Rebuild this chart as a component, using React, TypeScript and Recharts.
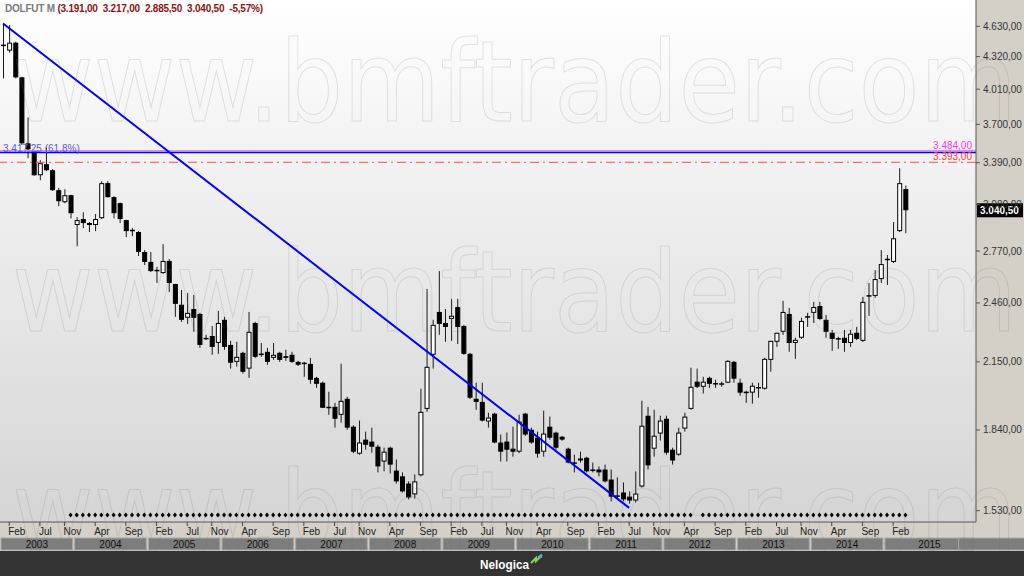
import React from "react";
import { ComposedChart, Bar, Line, XAxis, YAxis, ReferenceLine } from "recharts";

// DOLFUT monthly candles, Jan 2003 .. Apr 2015 (one row per year)
const opens = [
  4440, 4380, 4460, 4120, 3543, 3487, 3294, 3378, 3332, 3183, 3097, 3147,
  2940, 2980, 2953, 2940, 2986, 3235, 3133, 3090, 2973, 2906, 2893, 2764,
  2702, 2652, 2634, 2708, 2569, 2450, 2378, 2426, 2399, 2270, 2281, 2245,
  2367, 2235, 2150, 2195, 2117, 2350, 2190, 2200, 2170, 2195, 2178, 2185,
  2150, 2145, 2140, 2073, 2050, 1940, 1940, 1905, 1976, 1854, 1743, 1800,
  1792, 1771, 1712, 1767, 1677, 1655, 1628, 1588, 1659, 1931, 2185, 2410,
  2350, 2372, 2437, 2334, 2190, 1976, 1962, 1876, 1910, 1788, 1792, 1763,
  1751, 1910, 1841, 1808, 1751, 1854, 1829, 1812, 1763, 1708, 1716, 1727,
  1680, 1681, 1681, 1643, 1584, 1595, 1580, 1566, 1617, 1901, 1763, 1825,
  1888, 1759, 1739, 1846, 1931, 2055, 2031, 2073, 2047, 2045, 2050, 2150,
  2050, 2008, 2004, 2029, 2022, 2160, 2251, 2303, 2399, 2245, 2272, 2380,
  2405, 2443, 2367, 2298, 2268, 2272, 2245, 2298, 2256, 2497, 2500, 2598,
  2714, 2702, 2899, 3191,
];
const highs = [
  4660, 4643, 4470, 4125, 3760, 3490, 3409, 3510, 3340, 3200, 3190, 3150,
  2993, 3027, 2960, 3014, 3250, 3250, 3140, 3095, 2975, 2919, 2900, 2776,
  2764, 2671, 2814, 2720, 2570, 2534, 2517, 2505, 2405, 2287, 2334, 2416,
  2383, 2256, 2251, 2200, 2410, 2356, 2245, 2220, 2245, 2200, 2210, 2200,
  2155, 2150, 2170, 2078, 2055, 2008, 1958, 2141, 1985, 1860, 1880, 1833,
  1850, 1779, 1767, 1771, 1720, 1670, 1636, 1662, 2022, 2540, 2367, 2646,
  2426, 2483, 2483, 2340, 2195, 2050, 2050, 1914, 1914, 1821, 1829, 1854,
  1905, 1914, 1850, 1833, 1923, 1897, 1833, 1815, 1767, 1739, 1751, 1731,
  1708, 1693, 1700, 1681, 1651, 1632, 1599, 1674, 1967, 1940, 1927, 1901,
  1901, 1767, 1850, 1914, 2122, 2117, 2078, 2078, 2064, 2055, 2158, 2155,
  2069, 2013, 2050, 2050, 2170, 2256, 2298, 2472, 2432, 2272, 2378, 2405,
  2466, 2466, 2394, 2313, 2277, 2313, 2313, 2329, 2494, 2575, 2652, 2776,
  2745, 2960, 3347, 3217,
];
const lows = [
  4110, 4360, 4110, 3530, 3425, 3290, 3257, 3325, 3180, 3069, 3090, 2985,
  2800, 2919, 2893, 2899, 2980, 3130, 2985, 2953, 2860, 2866, 2739, 2683,
  2640, 2575, 2630, 2522, 2383, 2356, 2345, 2303, 2220, 2261, 2185, 2190,
  2210, 2117, 2127, 2093, 2073, 2170, 2175, 2136, 2160, 2150, 2155, 2145,
  2130, 2078, 2045, 2026, 1935, 1905, 1850, 1871, 1841, 1745, 1739, 1759,
  1747, 1670, 1674, 1666, 1628, 1595, 1570, 1573, 1655, 1918, 2117, 2287,
  2251, 2256, 2240, 2185, 1975, 1927, 1876, 1850, 1785, 1712, 1712, 1731,
  1745, 1815, 1783, 1727, 1731, 1800, 1759, 1795, 1705, 1670, 1708, 1670,
  1670, 1655, 1632, 1563, 1570, 1563, 1555, 1559, 1613, 1681, 1731, 1796,
  1739, 1700, 1735, 1833, 1927, 2025, 2000, 2026, 2026, 2031, 2048, 2050,
  1990, 1958, 1954, 1981, 2018, 2102, 2225, 2287, 2200, 2165, 2266, 2329,
  2350, 2365, 2272, 2205, 2215, 2200, 2225, 2260, 2250, 2388, 2489, 2575,
  2563, 2695, 2893, 2885.5,
];
const closes = [
  4425, 4460, 4120, 3543, 3495, 3294, 3386, 3332, 3183, 3104, 3147, 3020,
  2973, 2953, 2940, 2980, 3235, 3133, 3020, 2980, 2899, 2900, 2764, 2702,
  2646, 2646, 2708, 2575, 2455, 2367, 2405, 2378, 2235, 2265, 2225, 2350,
  2225, 2146, 2175, 2102, 2303, 2175, 2185, 2150, 2185, 2160, 2170, 2150,
  2136, 2140, 2064, 2045, 1936, 1934, 1888, 1967, 1850, 1751, 1788, 1779,
  1771, 1693, 1751, 1700, 1636, 1599, 1577, 1636, 1918, 2126, 2340, 2345,
  2329, 2389, 2329, 2190, 1981, 1962, 1880, 1893, 1788, 1751, 1759, 1751,
  1876, 1821, 1788, 1743, 1825, 1808, 1767, 1800, 1708, 1704, 1724, 1674,
  1677, 1670, 1636, 1580, 1580, 1570, 1566, 1591, 1858, 1697, 1816, 1880,
  1747, 1716, 1829, 1897, 2031, 2031, 2055, 2045, 2043, 2043, 2155, 2069,
  2004, 2002, 2036, 2024, 2165, 2256, 2298, 2410, 2245, 2261, 2361, 2385,
  2437, 2372, 2303, 2266, 2264, 2245, 2293, 2266, 2466, 2503, 2598, 2689,
  2720, 2852, 3235, 3040.5,
];

// empty months kept on the right of the last candle
const FUTURE_SLOTS = 11;

const yearLabels = ["2003", "2004", "2005", "2006", "2007", "2008", "2009", "2010", "2011", "2012", "2013", "2014", "2015"];
const monthTickIndex = [1, 6, 10, 15, 20, 25, 30, 34, 39, 44, 49, 54, 58, 63, 68, 73, 78, 82, 87, 92, 97, 102, 106, 111, 116, 121, 126, 130, 135, 140, 145];
const monthTickLabels = [
  "Feb", "Jul", "Nov", "Apr", "Sep", "Feb", "Jul", "Nov", "Apr", "Sep",
  "Feb", "Jul", "Nov", "Apr", "Sep", "Feb", "Jul", "Nov", "Apr", "Sep",
  "Feb", "Jul", "Nov", "Apr", "Sep", "Feb", "Jul", "Nov", "Apr", "Sep", "Feb",
];
const priceTicks = [1530, 1840, 2150, 2460, 2770, 3080, 3390, 3700, 4010, 4320, 4630];

// trendline drawn from the 2003 top to the 2011 bottom
const trendStart = { i: 0, value: 4660 };
const trendEnd = { i: 102, value: 1540 };

// stop-dot row under the candles
const stopDotLevel = 1515;
const stopDotFirst = 11;
const stopDotMissing = [113];

const resistanceLevel = 3484;
const fibLevel = 3470;
const fibText = "3.417,25 (61,8%)";
const stopLevel = 3393;
const lastPrice = 3040.5;

const PLOT_W = 976;
const PLOT_H = 522;
const CHART_H = 551;
const SLOT = PLOT_W / (opens.length + FUTURE_SLOTS);
const FONT = "'Liberation Sans', Arial, sans-serif";

const fmt = (v: number) => {
  const [a, b] = v.toFixed(2).split(".");
  return a.replace(/\B(?=(\d{3})+(?!\d))/g, ".") + "," + b;
};

const chartData = Array.from({ length: opens.length + FUTURE_SLOTS }, (_, i) => {
  if (i >= opens.length) return { i };
  const o = opens[i];
  const c = closes[i];
  return {
    i,
    o,
    h: highs[i],
    l: lows[i],
    c,
    wick: [lows[i], highs[i]],
    body: [Math.min(o, c), Math.max(o, c)],
    trend: i === trendStart.i ? trendStart.value : i === trendEnd.i ? trendEnd.value : null,
    stop: i >= stopDotFirst && !stopDotMissing.includes(i) ? stopDotLevel : null,
  };
});

function Wick(props: any) {
  const { x, y, width, height, payload } = props;
  if (!payload || payload.o == null) return null;
  const cx = x + width / 2;
  return <line x1={cx} x2={cx} y1={y} y2={y + height} stroke="#1a1a1a" strokeWidth={1} />;
}

function Body(props: any) {
  const { x, y, width, height, payload } = props;
  if (!payload || payload.o == null) return null;
  if (height < 1.5) {
    const cy = y + height / 2;
    return <line x1={x} x2={x + width} y1={cy} y2={cy} stroke="#000" strokeWidth={1.5} />;
  }
  const up = payload.c >= payload.o;
  return (
    <rect
      x={x + 0.5}
      y={y + 0.5}
      width={width - 1}
      height={height - 1}
      fill={up ? "#ffffff" : "#000000"}
      stroke="#000"
      strokeWidth={1}
    />
  );
}

function StopDot(props: any) {
  const { cx, cy, value } = props;
  if (value == null || cy == null || isNaN(cy)) return null;
  return <polygon points={`${cx},${cy - 2.5} ${cx + 2},${cy} ${cx},${cy + 2.5} ${cx - 2},${cy}`} fill="#000" />;
}

function MonthTick(props: any) {
  const { x, y, payload } = props;
  const k = monthTickIndex.indexOf(payload.value);
  if (k < 0) return null;
  return (
    <g>
      <line x1={x} x2={x} y1={y} y2={y + 4} stroke="#444" />
      <text x={x - 1} y={y + 13} textAnchor="start" fontSize={10} fontFamily={FONT} fill="#222">
        {monthTickLabels[k]}
      </text>
    </g>
  );
}

function YearTick(props: any) {
  const { x, y, payload } = props;
  if (payload.value % 12 !== 0) return null;
  const k = payload.value / 12;
  const x0 = x - SLOT / 2 + 1;
  const w = k === yearLabels.length - 1 ? PLOT_W - x0 - 2 : 12 * SLOT - 2;
  return (
    <g>
      <rect x={x0} y={y} width={w} height={12} fill="#7d7d7d" stroke="#a9a9a9" strokeWidth={1} />
      <text x={x0 + w / 2} y={y + 10} textAnchor="middle" fontSize={10} fontFamily={FONT} fill="#111">
        {yearLabels[k]}
      </text>
    </g>
  );
}

function PriceTick(props: any) {
  const { x, y, payload } = props;
  return (
    <text x={x} y={y + 3.5} textAnchor="start" fontSize={10} fontFamily={FONT} fill="#333">
      {fmt(payload.value)}
    </text>
  );
}

function RightLabel(props: any) {
  const { viewBox, text, color, dy } = props;
  if (!viewBox) return null;
  return (
    <text x={viewBox.x + viewBox.width - 4} y={viewBox.y + dy} textAnchor="end" fontSize={10} fontFamily={FONT} fill={color}>
      {text}
    </text>
  );
}

function FibLabel(props: any) {
  const { viewBox } = props;
  if (!viewBox) return null;
  return (
    <text x={viewBox.x + 3} y={viewBox.y} textAnchor="start" fontSize={10} fontFamily={FONT} fill="#5a5af0">
      {fibText}
    </text>
  );
}

function PriceBox(props: any) {
  const { viewBox } = props;
  if (!viewBox) return null;
  const x = viewBox.x + viewBox.width + 1;
  return (
    <g>
      <rect x={x} y={viewBox.y - 7} width={46} height={14} fill="#000" />
      <text x={x + 3} y={viewBox.y + 4} fontSize={10} fontWeight="bold" fontFamily={FONT} fill="#fff">
        {fmt(lastPrice)}
      </text>
    </g>
  );
}

export default function App() {
  return (
    <div style={{ position: "fixed", left: 0, top: 0, width: 1024, height: 576, overflow: "hidden", background: "#d4d0c8" }}>
      <div
        style={{
          position: "absolute",
          left: 0,
          top: 0,
          width: PLOT_W,
          height: PLOT_H,
          background: "linear-gradient(#ffffff, #d5d5d5)",
        }}
      />
      <div style={{ position: "absolute", left: 0, top: 0 }}>
        <ComposedChart width={1024} height={CHART_H} data={chartData} margin={{ top: 0, right: 0, bottom: 0, left: 0 }}>
          <XAxis
            xAxisId="m"
            dataKey="i"
            type="category"
            height={16}
            interval={0}
            tickLine={false}
            tickSize={0}
            tickMargin={0}
            axisLine={{ stroke: "#555" }}
            tick={<MonthTick />}
          />
          <XAxis
            xAxisId="y"
            dataKey="i"
            type="category"
            height={13}
            interval={0}
            tickLine={false}
            tickSize={0}
            tickMargin={0}
            axisLine={false}
            tick={<YearTick />}
          />
          <YAxis
            orientation="right"
            width={48}
            type="number"
            scale="log"
            domain={[1491, 4917]}
            allowDataOverflow
            ticks={priceTicks}
            interval={0}
            tickSize={4}
            tickMargin={3}
            tickLine={{ stroke: "#555" }}
            axisLine={{ stroke: "#555" }}
            tick={<PriceTick />}
          />
          <ReferenceLine
            xAxisId="m"
            y={resistanceLevel}
            stroke="#ee82ee"
            strokeWidth={1.5}
            label={<RightLabel text={fmt(resistanceLevel)} color="#ff33ff" dy={-2} />}
          />
          <ReferenceLine xAxisId="m" y={fibLevel} stroke="#0000ff" strokeWidth={1.5} label={<FibLabel />} />
          <ReferenceLine
            xAxisId="m"
            y={stopLevel}
            stroke="#ff4d4d"
            strokeWidth={1}
            strokeDasharray="9 4 2 4"
            label={<RightLabel text={fmt(stopLevel)} color="#ff4040" dy={-2} />}
          />
          <Bar xAxisId="m" dataKey="wick" barSize={1} shape={<Wick />} isAnimationActive={false} />
          <Bar xAxisId="y" dataKey="body" barSize={5} shape={<Body />} isAnimationActive={false} />
          <Line
            xAxisId="m"
            dataKey="trend"
            connectNulls
            stroke="#0000ff"
            strokeWidth={2}
            dot={false}
            activeDot={false}
            isAnimationActive={false}
          />
          <Line
            xAxisId="m"
            dataKey="stop"
            stroke="none"
            dot={<StopDot />}
            activeDot={false}
            isAnimationActive={false}
          />
          <ReferenceLine xAxisId="m" y={lastPrice} stroke="none" label={<PriceBox />} />
        </ComposedChart>
      </div>
      <svg
        width={1024}
        height={576}
        style={{ position: "absolute", left: 0, top: 0, pointerEvents: "none" }}
      >
        {[121, 331, 551].map((b) => (
          <text
            key={b}
            x={12}
            y={b}
            textLength={1005}
            lengthAdjust="spacingAndGlyphs"
            fontSize={112}
            fontFamily="'DejaVu Sans', sans-serif"
            fill="none"
            stroke="rgba(120,120,120,0.2)"
            strokeWidth={1}
          >
            www.bmftrader.com
          </text>
        ))}
        <text x={5} y={12} fontSize={10} fontWeight="bold" fontFamily={FONT} textLength={258} lengthAdjust="spacing" style={{ whiteSpace: "pre" }}>
          <tspan fill="#7a7a7a">DOLFUT M </tspan>
          <tspan fill="#8b1414">(3.191,00  3.217,00  2.885,50  3.040,50  -5,57%)</tspan>
        </text>
        <rect x={0} y={CHART_H} width={1024} height={576 - CHART_H} fill="#333333" />
        <text x={480} y={569} fontSize={13} fontWeight="bold" fontFamily={FONT} fill="#ffffff" textLength={49} lengthAdjust="spacingAndGlyphs">
          Nelogica
        </text>
        <polyline points="531,563 536,558 536,561 542,555" fill="none" stroke="#7ed957" strokeWidth={2} />
        <polyline points="538,557 541,555 541,558" fill="none" stroke="#3fb6e8" strokeWidth={1.5} />
      </svg>
    </div>
  );
}
